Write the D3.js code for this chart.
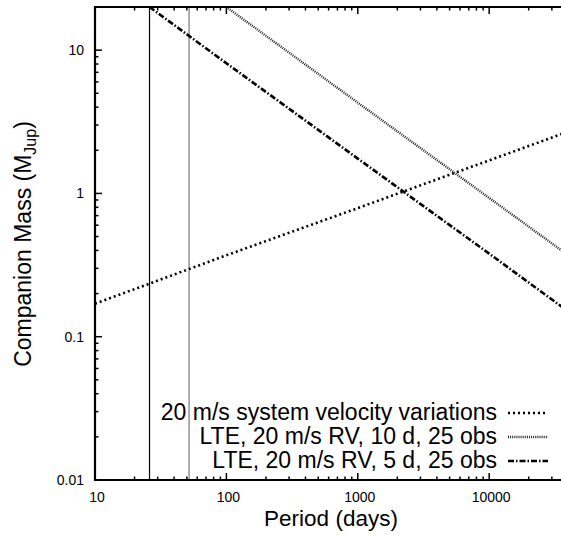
<!DOCTYPE html>
<html>
<head>
<meta charset="utf-8">
<script src="https://cdn.jsdelivr.net/npm/d3@7"></script>
<style>
  body { margin: 0; background: #fff; }
  text { font-family: "Liberation Sans", Arial, sans-serif; fill: #000; }
</style>
</head>
<body>
<svg id="chart" width="561" height="535"></svg>
<script>
// values
var xMajor = [10, 100, 1000, 10000];
var xTickLabels = ["10", "100", "1000", "10000"];
var yMajor = [0.01, 0.1, 1, 10];
var yTickLabels = ["0.01", "0.1", "1", "10"];

var sysVelPeriod = [10, 100, 1000, 10000, 40000];
var sysVelMass = [0.17, 0.37, 0.79, 1.7, 2.7];

var lte10Period = [100, 1000, 10000, 40000];
var lte10Mass = [20, 4.3, 0.93, 0.37];

var lte5Period = [26, 100, 1000, 10000, 40000];
var lte5Mass = [20, 8.1, 1.75, 0.38, 0.15];

var windowPeriod = [26, 52];
var windowColor = ["#000", "#777"];

var legendLabels = ["20 m/s system velocity variations",
                    "LTE, 20 m/s RV, 10 d, 25 obs",
                    "LTE, 20 m/s RV, 5 d, 25 obs"];

var svg = d3.select("#chart"),
    plotL = 95, plotT = 7, plotB = 480, plotR = 581;

var x = d3.scaleLog().domain([10, 50000]).range([plotL, plotR]);
var y = d3.scaleLog().domain([0.01, 20]).range([plotB, plotT]);

svg.append("clipPath").attr("id", "plotclip")
  .append("rect").attr("x", plotL).attr("y", plotT)
  .attr("width", plotR - plotL).attr("height", plotB - plotT);

var plot = svg.append("g").attr("clip-path", "url(#plotclip)");

// window lines
plot.selectAll(".win").data(windowPeriod).enter().append("line")
    .attr("x1", function(d){ return x(d); }).attr("x2", function(d){ return x(d); })
    .attr("y1", plotT).attr("y2", plotB)
    .attr("stroke", function(d, i){ return windowColor[i]; })
    .attr("stroke-width", 1.2);

var styles = [
  {dash: "2,3", width: 2.6, color: "#000"},
  {dash: "1,1.1", width: 2.4, color: "#222"},
  {dash: "6,2,1.5,2", width: 2.6, color: "#000"}
];
var series = [
  d3.zip(sysVelPeriod, sysVelMass),
  d3.zip(lte10Period, lte10Mass),
  d3.zip(lte5Period, lte5Mass)
];

var line = d3.line()
    .x(function(d){ return x(d[0]); })
    .y(function(d){ return y(d[1]); });

series.forEach(function(s, i){
  plot.append("path")
      .attr("d", line(s))
      .attr("fill", "none")
      .attr("stroke", styles[i].color)
      .attr("stroke-width", styles[i].width)
      .attr("stroke-dasharray", styles[i].dash);
});

// axes: ticks drawn inward
var xMinor = [], yMinor = [];
xMajor.forEach(function(d){
  for (var k = 2; k <= 9; k++) xMinor.push(d * k);
});
yMajor.forEach(function(d){
  for (var k = 2; k <= 9; k++) if (d * k <= 20) yMinor.push(d * k);
});
xMinor = xMinor.filter(function(d){ return x(d) <= 561; });

var ax = svg.append("g").attr("stroke", "#000").attr("stroke-width", 1.5);

// bottom + top ticks
[[plotB, -1], [plotT, 1]].forEach(function(p){
  ax.selectAll(null).data(xMajor).enter().append("line")
    .attr("x1", function(d){ return x(d); }).attr("x2", function(d){ return x(d); })
    .attr("y1", p[0]).attr("y2", p[0] + p[1] * 7);
  ax.selectAll(null).data(xMinor).enter().append("line")
    .attr("x1", function(d){ return x(d); }).attr("x2", function(d){ return x(d); })
    .attr("y1", p[0]).attr("y2", p[0] + p[1] * 3.5);
});
// left ticks
ax.selectAll(null).data(yMajor).enter().append("line")
  .attr("x1", plotL).attr("x2", plotL + 7)
  .attr("y1", function(d){ return y(d); }).attr("y2", function(d){ return y(d); });
ax.selectAll(null).data(yMinor).enter().append("line")
  .attr("x1", plotL).attr("x2", plotL + 3.5)
  .attr("y1", function(d){ return y(d); }).attr("y2", function(d){ return y(d); });

// border (left, top, bottom; right edge is off the picture)
svg.append("path")
  .attr("d", "M" + (plotR + 5) + "," + plotT + "H" + plotL + "V" + plotB + "H" + (plotR + 5))
  .attr("fill", "none").attr("stroke", "#000").attr("stroke-width", 2.2);

// tick labels
svg.selectAll(".xl").data(xMajor).enter().append("text")
  .attr("x", function(d){ return x(d) + 2; }).attr("y", 502)
  .attr("text-anchor", "middle").attr("font-size", 14)
  .text(function(d, i){ return xTickLabels[i]; });
svg.selectAll(".yl").data(yMajor).enter().append("text")
  .attr("x", 84).attr("y", function(d){ return y(d) + 5; })
  .attr("text-anchor", "end").attr("font-size", 14)
  .text(function(d, i){ return yTickLabels[i]; });

// axis titles
svg.append("text").attr("x", 331).attr("y", 526)
  .attr("text-anchor", "middle").attr("font-size", 22.5)
  .text("Period (days)");

var yt = svg.append("text")
  .attr("transform", "translate(31,244) rotate(-90)")
  .attr("text-anchor", "middle").attr("font-size", 23);
yt.append("tspan").text("Companion Mass (M");
yt.append("tspan").attr("font-size", 16).attr("dy", 5).text("Jup");
yt.append("tspan").attr("dy", -5).text(")");

// legend
var rowY = [413, 437, 461];
var leg = svg.selectAll(".leg").data(legendLabels).enter().append("g");
leg.append("text")
  .attr("x", 497).attr("y", function(d, i){ return rowY[i] + 7; })
  .attr("text-anchor", "end").attr("font-size", 23)
  .text(function(d){ return d; });
leg.append("line")
  .attr("x1", 508).attr("x2", 548)
  .attr("y1", function(d, i){ return rowY[i]; }).attr("y2", function(d, i){ return rowY[i]; })
  .attr("stroke", function(d, i){ return styles[i].color; })
  .attr("stroke-width", function(d, i){ return styles[i].width; })
  .attr("stroke-dasharray", function(d, i){ return styles[i].dash; });
</script>
</body>
</html>
